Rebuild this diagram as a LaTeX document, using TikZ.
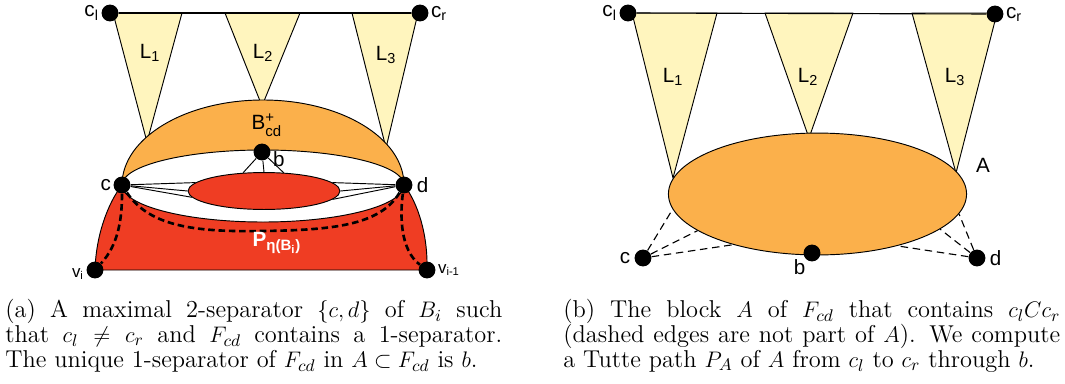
\documentclass[tikz,border=0pt]{standalone}
\usepackage{fontspec}
\usetikzlibrary{shapes.geometric, positioning, calc, backgrounds}
\newfontfamily\diagfont{Liberation Sans}
\definecolor{leafyellow}{HTML}{FFF5BE}
\definecolor{blockorange}{HTML}{FBB04B}
\definecolor{blockred}{HTML}{EF3D23}
\newcommand{\smalllbl}[1]{\hbox{\diagfont\fontsize{8}{9}\selectfont #1}}
\newcommand{\capfont}{\fontsize{13}{13.2}\selectfont\lineskiplimit=-10pt\relax}

\begin{document}
\begin{tikzpicture}[x=0.5333pt, y=-0.5333pt,
    vertex/.style={circle, fill=black, inner sep=0pt, minimum size=9pt},
    lbl/.style={font=\diagfont\fontsize{11}{13}\selectfont, inner sep=1pt},
    leaf/.style={draw=black, fill=leafyellow, line width=0.5pt, line join=round},
    outline/.style={draw=black, line width=0.5pt},
    pathdash/.style={line width=1.4pt, dash pattern=on 3.5pt off 2pt},
    cutdash/.style={line width=0.6pt, dash pattern=on 4pt off 2.5pt},
    subcap/.style={text width=265pt, align=justify, inner sep=0pt, anchor=north west, font=\capfont}]
  \useasboundingbox (0,0) rectangle (1065,383);

  % (a) maximal 2-separator
  \node[vertex] (cl) at (110,13) {};
  \node[vertex] (cr) at (420,13) {};
  \node[vertex] (c) at (122,185) {};
  \node[vertex] (d) at (404,185) {};
  \node[vertex] (b) at (262,152) {};
  \node[vertex] (vi) at (95,270) {};
  \node[vertex] (vim) at (427,270) {};
  \begin{pgfonlayer}{background}
    \draw[leaf] (113,13) -- (182,13) -- (147,142) -- cycle;
    \draw[leaf] (225,13) -- (300,13) -- (262,106) -- cycle;
    \draw[leaf] (352,13) -- (418,13) -- (386,148) -- cycle;
    \draw[outline, fill=blockorange] (122,185) arc[start angle=180, end angle=360, x radius=141, y radius=85]
      arc[start angle=0, end angle=-180, x radius=141, y radius=35] -- cycle;
    \draw[outline, fill=blockred] (95,270) .. controls (96,235) and (108,203) .. (122,185)
      arc[start angle=180, end angle=0, x radius=141, y radius=37]
      .. controls (418,203) and (428,235) .. (427,270) -- cycle;
  \end{pgfonlayer}
  \node[outline, ellipse, fill=blockred, inner sep=0pt, minimum width=81pt, minimum height=19.7pt] (core) at (264,191) {};
  \draw[line width=0.6pt] (cl) -- (cr);
  \foreach \a in {173,180,185} \draw[line width=0.5pt] (c) -- (core.\a);
  \foreach \a in {7,0,353} \draw[line width=0.5pt] (d) -- (core.\a);
  \foreach \a in {139,90,43} \draw[line width=0.5pt] (b) -- (core.\a);
  \draw[pathdash] (c) .. controls (122,220) and (118,245) .. (vi);
  \draw[pathdash] (c) .. controls (150,228) and (200,232) .. (263,231) .. controls (330,230) and (380,226) .. (d);
  \draw[pathdash] (d) .. controls (400,215) and (400,250) .. (vim);
  \node[lbl, left=0pt of cl] {c\textsubscript{l}};
  \node[lbl, right=0pt of cr] {c\textsubscript{r}};
  \node[lbl, left=0pt of c] {c};
  \node[lbl, right=1pt of d] {d};
  \node[lbl, right=0pt of b, yshift=-4pt] {b};
  \node[lbl, left=0pt of vi, yshift=-2pt, font=\diagfont\fontsize{9}{11}\selectfont] {v\textsubscript{i}};
  \node[lbl, right=0pt of vim, font=\diagfont\fontsize{9}{11}\selectfont] {v\textsubscript{i-1}};
  \node[lbl] (l1) at (150,53) {L\textsubscript{1}};
  \node[lbl] (l2) at (263,53) {L\textsubscript{2}};
  \node[lbl] (l3) at (386,55) {L\textsubscript{3}};
  \node[lbl] (bcd) at (267,125) {B$^{\smalllbl{+}}_{\smalllbl{cd}}$};
  \node[lbl, text=white, font=\diagfont\bfseries\fontsize{11}{13}\selectfont] (peta) at (277,243)
    {P$_{\hbox{\diagfont\bfseries\fontsize{8}{9}\selectfont η(B\textsubscript{i})}}$};

  % (b) block A of F_cd
  \node[vertex] (cl2) at (628,13) {};
  \node[vertex] (cr2) at (995,14) {};
  \node[vertex] (c2) at (643,258) {};
  \node[vertex] (b2) at (812,253) {};
  \node[vertex] (d2) at (977,258) {};
  \begin{pgfonlayer}{background}
    \draw[leaf] (632,13) -- (717,13) -- (673,178) -- cycle;
    \draw[leaf] (765,13) -- (853,13) -- (809,138) -- cycle;
    \draw[leaf] (912,13) -- (997,13) -- (956,173) -- cycle;
    \node[outline, ellipse, fill=blockorange, inner sep=0pt, minimum width=159pt, minimum height=65pt] (A) at (817.5,194) {};
  \end{pgfonlayer}
  \draw[line width=0.6pt] (cl2) -- (cr2);
  \foreach \a in {186,197,211} \draw[cutdash] (c2) -- (A.\a);
  \foreach \a in {352,344,327} \draw[cutdash] (d2) -- (A.\a);
  \node[lbl, left=0pt of cl2] {c\textsubscript{l}};
  \node[lbl, right=0pt of cr2] {c\textsubscript{r}};
  \node[lbl, left=1pt of c2] {c};
  \node[lbl, below left=-1pt and -1pt of b2] {b};
  \node[lbl, right=1pt of d2] {d};
  \node[lbl] (alabel) at (983,165) {A};
  \node[lbl] (m1) at (673,77) {L\textsubscript{1}};
  \node[lbl] (m2) at (808,77) {L\textsubscript{2}};
  \node[lbl] (m3) at (955,77) {L\textsubscript{3}};

  % captions
  \node[subcap] (capa) at (5,299) {(a) A maximal 2-separator $\{c,d\}$ of $B_i$ such\linebreak
    that $c_l \neq c_r$ and $F_{cd}$ contains a 1-separator.\linebreak
    The unique 1-separator of $F_{cd}$ in $A \subset F_{cd}$ is $b$.};
  \node[subcap] (capb) at (563,299) {(b) The block $A$ of $F_{cd}$ that contains $c_lCc_r$\linebreak
    (dashed edges are not part of $A$). We compute\linebreak
    a Tutte path $P_A$ of $A$ from $c_l$ to $c_r$ through $b$.};
\end{tikzpicture}
\end{document}
